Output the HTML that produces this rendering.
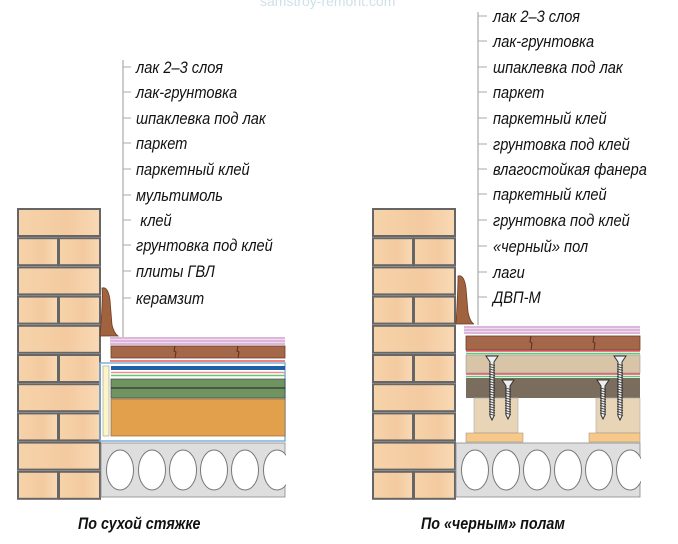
<!DOCTYPE html>
<html><head><meta charset="utf-8"><style>
body{margin:0;background:#fff;width:678px;height:544px;overflow:hidden}
svg{display:block}
.t{font-family:"Liberation Sans",sans-serif;font-style:italic;font-size:17px;fill:#111}
.c{font-family:"Liberation Sans",sans-serif;font-style:italic;font-weight:bold;font-size:17px;fill:#111}
</style></head><body>
<svg id="s" width="678" height="544" viewBox="0 0 678 544" xmlns="http://www.w3.org/2000/svg">
<defs>
<linearGradient id="br" x1="0" x2="1"><stop offset="0" stop-color="#f6d3aa"/><stop offset="0.6" stop-color="#f4caa0"/><stop offset="1" stop-color="#f8d9b4"/></linearGradient>
</defs>
<text x="260" y="6" font-family="Liberation Sans" font-size="14" fill="#cfe0ea">samstroy-remont.com</text>
<g id="g"></g>
<path d="M100 336 Q103 300 102 288 Q108 286 110 300 L112 325 Q114 333 118 336 Z" fill="#a0623f" stroke="#6e3f25" stroke-width="0.8"/>
<rect x="110" y="337" width="175" height="8" fill="#f0dcee"/>
<line x1="110" y1="338" x2="285" y2="338" stroke="#c890c8" stroke-width="1"/>
<line x1="110" y1="341" x2="285" y2="341" stroke="#c890c8" stroke-width="1"/>
<line x1="110" y1="344" x2="285" y2="344" stroke="#c890c8" stroke-width="1"/>
<rect x="111" y="346" width="174" height="12" fill="#a4674a" stroke="#6e3f25" stroke-width="0.8"/>
<path d="M175 346 l-1 5 2 1 -1 6 M238 346 l-1 5 2 1 -1 6" stroke="#5a3020" fill="none"/>
<line x1="110" y1="361" x2="285" y2="361" stroke="#f08080" stroke-width="2"/>
<rect x="100" y="363" width="185" height="78" fill="none" stroke="#7eb0dc" stroke-width="1.5"/>
<rect x="111" y="366" width="174" height="4" fill="#1d5fa8"/>
<line x1="111" y1="372.5" x2="285" y2="372.5" stroke="#f09090" stroke-width="1.5"/>
<line x1="111" y1="375.5" x2="285" y2="375.5" stroke="#60c878" stroke-width="1.5"/>
<rect x="111" y="379" width="174" height="19" fill="#6f9460" stroke="#444" stroke-width="0.7"/>
<line x1="111" y1="388" x2="285" y2="388" stroke="#333" stroke-width="1.2"/>
<rect x="111" y="399" width="174" height="37" fill="#e2a04c" stroke="#8a6a40" stroke-width="0.7"/>
<rect x="103" y="366" width="6" height="70" fill="#fdf4c8" stroke="#999" stroke-width="0.6"/>
<rect x="101" y="443" width="184" height="54" fill="#dedede" stroke="#888" stroke-width="0.8"/>
<path d="M456 324 Q458 290 458 276 Q464 274 466 288 L468 312 Q470 322 474 324 Z" fill="#a0623f" stroke="#6e3f25" stroke-width="0.8"/>
<rect x="464" y="326" width="176" height="8" fill="#f0dcee"/>
<line x1="464" y1="327" x2="640" y2="327" stroke="#c890c8"/>
<line x1="464" y1="330" x2="640" y2="330" stroke="#c890c8"/>
<line x1="464" y1="333" x2="640" y2="333" stroke="#c890c8"/>
<rect x="466" y="336" width="174" height="14" fill="#a4674a" stroke="#6e3f25" stroke-width="0.8"/>
<path d="M531 336 l-1 6 2 1 -1 7 M594 336 l-1 6 2 1 -1 7" stroke="#5a3020" fill="none"/>
<line x1="466" y1="351" x2="640" y2="351" stroke="#e05060" stroke-width="1.5"/>
<line x1="466" y1="353.5" x2="640" y2="353.5" stroke="#60c878" stroke-width="1.5"/>
<rect x="466" y="355" width="174" height="18" fill="#d8c4a6" stroke="#999" stroke-width="0.6"/>
<line x1="466" y1="374" x2="640" y2="374" stroke="#e05060" stroke-width="1.5"/>
<line x1="466" y1="376.5" x2="640" y2="376.5" stroke="#60c878" stroke-width="1.5"/>
<rect x="466" y="378" width="174" height="20" fill="#7b6d5e"/>
<rect x="474" y="398" width="44" height="35" fill="#e8d4b6" stroke="#aaa" stroke-width="0.6"/>
<rect x="596" y="398" width="44" height="35" fill="#e8d4b6" stroke="#aaa" stroke-width="0.6"/>
<rect x="466" y="433" width="57" height="9" fill="#f6c88a" stroke="#a98" stroke-width="0.6"/>
<rect x="589" y="433" width="51" height="9" fill="#f6c88a" stroke="#a98" stroke-width="0.6"/>
<rect x="456" y="443" width="184" height="54" fill="#dedede" stroke="#888" stroke-width="0.8"/>
<g id="sc"></g>
<g stroke="#aaa" stroke-width="1.2" fill="none">
<line x1="123" y1="60" x2="123" y2="337"/>
<line x1="478" y1="12" x2="478" y2="325"/>
</g>
<g id="tk" stroke="#aaa" stroke-width="1"></g>
<g class="t" transform="translate(136,0) scale(0.86,1)">
<text x="0" y="73">лак 2–3 слоя</text>
<text x="0" y="98">лак-грунтовка</text>
<text x="0" y="124">шпаклевка под лак</text>
<text x="0" y="149">паркет</text>
<text x="0" y="175">паркетный клей</text>
<text x="0" y="201">мультимоль</text>
<text x="5" y="226">клей</text>
<text x="0" y="251">грунтовка под клей</text>
<text x="0" y="277">плиты ГВЛ</text>
<text x="0" y="304">керамзит</text>
</g>
<g class="t" transform="translate(493,0) scale(0.86,1)">
<text x="0" y="22">лак 2–3 слоя</text>
<text x="0" y="47">лак-грунтовка</text>
<text x="0" y="73">шпаклевка под лак</text>
<text x="0" y="98">паркет</text>
<text x="0" y="124">паркетный клей</text>
<text x="0" y="150">грунтовка под клей</text>
<text x="0" y="175">влагостойкая фанера</text>
<text x="0" y="200">паркетный клей</text>
<text x="0" y="226">грунтовка под клей</text>
<text x="0" y="252">«черный» пол</text>
<text x="0" y="278">лаги</text>
<text x="0" y="303">ДВП-М</text>
</g>
<text class="c" transform="translate(78,529) scale(0.84,1)">По сухой стяжке</text>
<text class="c" transform="translate(421,529) scale(0.84,1)">По «черным» полам</text>
</svg>
<script>
var NS="http://www.w3.org/2000/svg",g=document.getElementById("g");
function el(p,t,a){var e=document.createElementNS(NS,t);for(var k in a)e.setAttribute(k,a[k]);p.appendChild(e);return e;}
[18,373].forEach(function(x0){
 for(var i=0;i<10;i++){var y=209+i*29.2,h=27;
  if(i%2==0)el(g,"rect",{x:x0,y:y,width:82,height:h,fill:"url(#br)",stroke:"#666",'stroke-width':2});
  else{el(g,"rect",{x:x0,y:y,width:40,height:h,fill:"url(#br)",stroke:"#666",'stroke-width':2});
       el(g,"rect",{x:x0+41,y:y,width:41,height:h,fill:"url(#br)",stroke:"#666",'stroke-width':2});}
 }
});
var s=document.getElementById("s");
[[120,152,183,214,245,277],[475,506,537,568,599,630]].forEach(function(xs){
 xs.forEach(function(cx){el(s,"ellipse",{cx:cx,cy:470,rx:13.5,ry:20,fill:"#fff",stroke:"#777",'stroke-width':1});});
});
el(s,"rect",{x:286,y:440,width:20,height:60,fill:"#fff"});
el(s,"rect",{x:641,y:440,width:37,height:60,fill:"#fff"});
var sc=document.getElementById("sc");
function screw(x,y1,y2){
 el(sc,"path",{d:"M"+(x-6)+" "+y1+" L"+(x+6)+" "+y1+" L"+(x+2)+" "+(y1+6)+" L"+(x+2)+" "+(y2-4)+" L"+x+" "+y2+" L"+(x-2)+" "+(y2-4)+" L"+(x-2)+" "+(y1+6)+"Z",fill:"#eee",stroke:"#333",'stroke-width':1});
 for(var y=y1+8;y<y2-4;y+=2.5)el(sc,"line",{x1:x-3,y1:y,x2:x+3,y2:y+1.5,stroke:"#333",'stroke-width':0.8});
}
screw(492,356,420);screw(508,380,419);screw(603,380,419);screw(620,356,420);
var tk=document.getElementById("tk");
[67,92,118,143,169,195,220,245,271,298].forEach(function(y){el(tk,"line",{x1:123,y1:y,x2:131,y2:y});});
[16,41,67,92,118,144,169,194,220,246,272,297].forEach(function(y){el(tk,"line",{x1:478,y1:y,x2:487,y2:y});});
</script>
</body></html>
